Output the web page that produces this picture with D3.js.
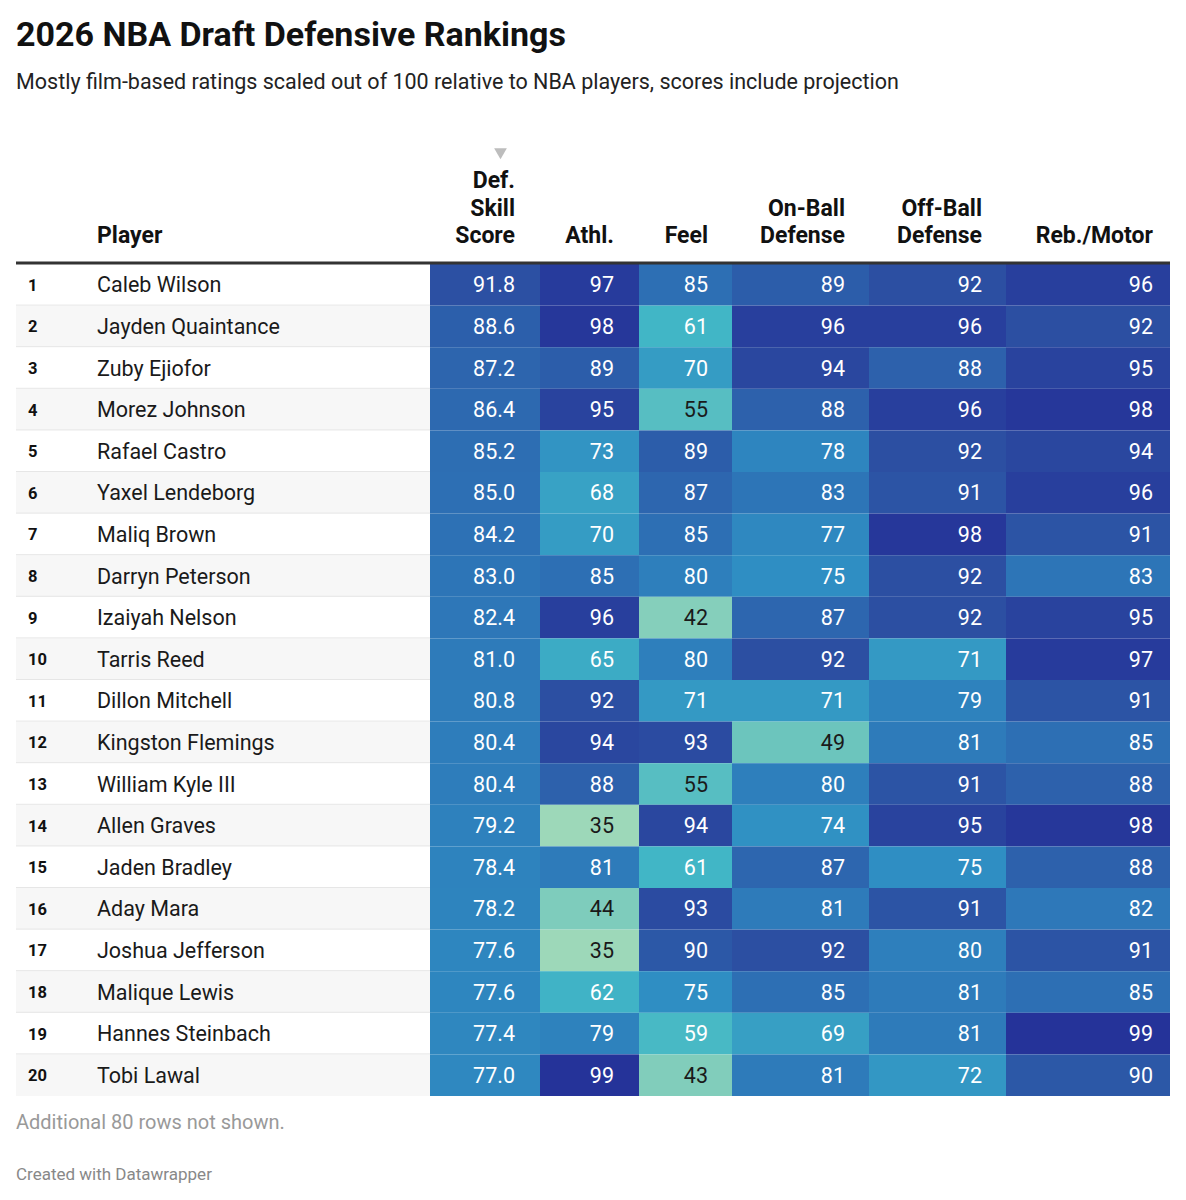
<!DOCTYPE html>
<html>
<head>
<meta charset="utf-8">
<script src="https://cdn.jsdelivr.net/npm/d3@7"></script>
<style>
  body { margin: 0; background: #fff; }
  svg { display: block; font-family: Roboto, "Noto Sans", sans-serif; }
</style>
</head>
<body>
<svg id="chart"></svg>
<script>
// data
var ranks = [1,2,3,4,5,6,7,8,9,10,11,12,13,14,15,16,17,18,19,20];
var players = ["Caleb Wilson","Jayden Quaintance","Zuby Ejiofor","Morez Johnson","Rafael Castro",
  "Yaxel Lendeborg","Maliq Brown","Darryn Peterson","Izaiyah Nelson","Tarris Reed",
  "Dillon Mitchell","Kingston Flemings","William Kyle III","Allen Graves","Jaden Bradley",
  "Aday Mara","Joshua Jefferson","Malique Lewis","Hannes Steinbach","Tobi Lawal"];
var defSkill = [91.8,88.6,87.2,86.4,85.2,85.0,84.2,83.0,82.4,81.0,80.8,80.4,80.4,79.2,78.4,78.2,77.6,77.6,77.4,77.0];
var athl     = [97,98,89,95,73,68,70,85,96,65,92,94,88,35,81,44,35,62,79,99];
var feel     = [85,61,70,55,89,87,85,80,42,80,71,93,55,94,61,93,90,75,59,43];
var onBall   = [89,96,94,88,78,83,77,75,87,92,71,49,80,74,87,81,92,85,69,81];
var offBall  = [92,96,88,96,92,91,98,92,92,71,79,81,91,95,75,91,80,81,81,72];
var rebMotor = [96,92,95,98,94,96,91,83,95,97,91,85,88,98,88,82,91,85,99,90];
var columns = [
  {key: "def",  label: ["Def.","Skill","Score"], values: defSkill, fmt: ".1f"},
  {key: "athl", label: ["Athl."], values: athl, fmt: "d"},
  {key: "feel", label: ["Feel"], values: feel, fmt: "d"},
  {key: "on",   label: ["On-Ball","Defense"], values: onBall, fmt: "d"},
  {key: "off",  label: ["Off-Ball","Defense"], values: offBall, fmt: "d"},
  {key: "reb",  label: ["Reb./Motor"], values: rebMotor, fmt: "d"}
];

var width = 1186, height = 1200;
var left = 16, right = 1170;
var colWidths = [110, 99, 93, 137, 137, 164];
var pad = [25, 25, 24, 24, 24, 17];

var svg = d3.select("#chart").attr("width", width).attr("height", height);

// title + subtitle
svg.append("text")
  .attr("x", left).attr("y", 46)
  .style("font-size", "34px").style("font-weight", "700")
  .attr("fill", "#111")
  .text("2026 NBA Draft Defensive Rankings");
svg.append("text")
  .attr("x", left).attr("y", 89)
  .style("font-size", "21.5px")
  .attr("fill", "#222")
  .text("Mostly film-based ratings scaled out of 100 relative to NBA players, scores include projection");

// scales
var y = d3.scaleBand().domain(d3.range(players.length)).range([264, 1096]);
var edges = [430].concat(Array.from(d3.cumsum(colWidths), function(d){ return 430 + d; }));
var x = d3.scaleOrdinal().domain(columns.map(function(c){ return c.key; })).range(edges.slice(0, -1));
var color = d3.scaleLinear()
  .domain([35, 49, 61, 75, 85, 92, 99])
  .range(["#9dd8b9", "#6cc5bd", "#41b6c6", "#2f8ec3", "#2d6fb4", "#2c4fa2", "#253399"])
  .interpolate(d3.interpolateRgb)
  .clamp(true);

// header
var headBase = 243, lineH = 27.5;
svg.append("text")
  .attr("x", 97).attr("y", headBase)
  .style("font-size", "23px").style("font-weight", "700")
  .attr("fill", "#111")
  .text("Player");
columns.forEach(function(c, i) {
  var xr = x(c.key) + colWidths[i] - pad[i];
  var t = svg.append("text")
    .attr("text-anchor", "end")
    .style("font-size", "23px").style("font-weight", "700")
    .attr("fill", "#111");
  c.label.forEach(function(l, j) {
    t.append("tspan")
      .attr("x", xr)
      .attr("y", headBase - (c.label.length - 1 - j) * lineH)
      .text(l);
  });
});
// sort arrow
svg.append("path")
  .attr("d", d3.symbol(d3.symbolTriangle, 70)())
  .attr("transform", "translate(500.5,152) rotate(180)")
  .attr("fill", "#bdbdbd");

// row backgrounds (left part)
var rows = svg.append("g");
rows.selectAll("rect.bg")
  .data(players)
  .join("rect")
  .attr("class", "bg")
  .attr("x", left)
  .attr("y", function(d, i){ return y(i); })
  .attr("width", 430 - left)
  .attr("height", y.bandwidth())
  .attr("fill", function(d, i){ return i % 2 ? "#f7f7f7" : "#fff"; });
rows.selectAll("line.sep")
  .data(players.slice(0, -1))
  .join("line")
  .attr("class", "sep")
  .attr("x1", left).attr("x2", 430)
  .attr("y1", function(d, i){ return y(i) + y.bandwidth() - 0.5; })
  .attr("y2", function(d, i){ return y(i) + y.bandwidth() - 0.5; })
  .attr("stroke", "#e6e6e6");

rows.selectAll("text.rank")
  .data(ranks)
  .join("text")
  .attr("class", "rank")
  .attr("x", 28)
  .attr("y", function(d, i){ return y(i) + y.bandwidth() / 2 + 6; })
  .style("font-size", "16.5px").style("font-weight", "700")
  .attr("fill", "#111")
  .text(function(d){ return d; });
rows.selectAll("text.name")
  .data(players)
  .join("text")
  .attr("class", "name")
  .attr("x", 97)
  .attr("y", function(d, i){ return y(i) + y.bandwidth() / 2 + 7.5; })
  .style("font-size", "21.5px")
  .attr("fill", "#1a1a1a")
  .text(function(d){ return d; });

// heatmap cells
columns.forEach(function(c, ci) {
  var g = svg.append("g");
  var f = d3.format(c.fmt);
  g.selectAll("rect")
    .data(c.values)
    .join("rect")
    .attr("x", x(c.key))
    .attr("y", function(d, i){ return y(i); })
    .attr("width", colWidths[ci])
    .attr("height", y.bandwidth())
    .attr("fill", function(d){ return color(d); });
  g.selectAll("text")
    .data(c.values)
    .join("text")
    .attr("x", x(c.key) + colWidths[ci] - pad[ci])
    .attr("y", function(d, i){ return y(i) + y.bandwidth() / 2 + 7.5; })
    .attr("text-anchor", "end")
    .style("font-size", "21.5px")
    .attr("fill", function(d){ return d < 57 ? "#1a1a1a" : "#fff"; })
    .text(function(d){ return f(d); });
});

// header rule
svg.append("line")
  .attr("x1", left).attr("x2", right)
  .attr("y1", 263).attr("y2", 263)
  .attr("stroke", "#333").attr("stroke-width", 3);

// notes
svg.append("text")
  .attr("x", left).attr("y", 1129)
  .style("font-size", "20px")
  .attr("fill", "#999")
  .text("Additional 80 rows not shown.");
svg.append("text")
  .attr("x", left).attr("y", 1180)
  .style("font-size", "17px")
  .attr("fill", "#888")
  .text("Created with Datawrapper");
</script>
</body>
</html>
